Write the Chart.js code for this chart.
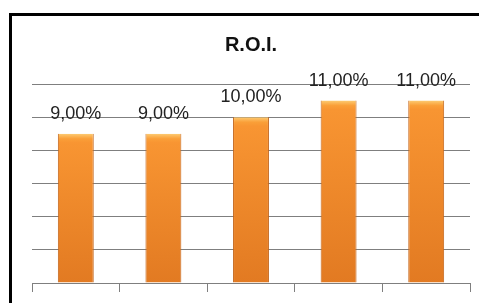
<!DOCTYPE html>
<html>
<head>
<meta charset="utf-8">
<title>R.O.I.</title>
<script src="https://cdn.jsdelivr.net/npm/chart.js@4/dist/chart.umd.min.js"></script>
<style>
	html, body {
		margin: 0;
		padding: 0;
		width: 479px;
		height: 303px;
		overflow: hidden;
		background: #fff;
	}
	.roi-frame {
		position: absolute;
		left: 9px;
		top: 13px;
		width: 600px;
		height: 400px;
		border: 3px solid #000;
	}
	.roi-holder {
		position: absolute;
		left: 0;
		top: 0;
		width: 479px;
		height: 303px;
	}
</style>
</head>
<body>
<div class="roi-frame"></div>
<div class="roi-holder"><canvas id="roi-chart" width="479" height="303"></canvas></div>
<script>
(function () {
	'use strict';

	var titleText = 'R.O.I.';
	var categories = ['1', '2', '3', '4', '5'];
	var roiValues = [9, 9, 10, 11, 11];
	var yTicks = [0, 2, 4, 6, 8, 10, 12];

	var gridColor = '#7f7f7f';

	/**
	 * Vertical bevel gradient for one bar
	 */
	function barFill(context) {
		var chart = context.chart,
			area = chart.chartArea,
			scale = chart.scales.y;

		if (!area || !scale || context.parsed === undefined) {
			return '#F7952F';
		}

		var top = scale.getPixelForValue(context.parsed.y),
			bottom = scale.getPixelForValue(0),
			height = Math.max(bottom - top, 1),
			grad = chart.ctx.createLinearGradient(0, top, 0, bottom);

		grad.addColorStop(0, '#FDCB72');
		grad.addColorStop(Math.min(5 / height, 1), '#FA9F38');
		grad.addColorStop(Math.min(9 / height, 1), '#F89532');
		grad.addColorStop(1, '#E27A22');
		return grad;
	}

	// percent labels above each bar, comma decimals
	var valueLabels = {
		id: 'valueLabels',
		afterDatasetsDraw: function (chart) {
			var ctx = chart.ctx,
				meta = chart.getDatasetMeta(0);

			ctx.save();
			ctx.font = '18px "Liberation Sans", Arial, sans-serif';
			ctx.fillStyle = '#222';
			ctx.textAlign = 'center';
			ctx.textBaseline = 'middle';
			meta.data.forEach(function (bar, i) {
				var text = roiValues[i].toFixed(2).replace('.', ',') + '%';
				ctx.fillText(text, bar.x, bar.y - 20);
			});
			ctx.restore();
		}
	};

	new Chart(document.getElementById('roi-chart'), {
		type: 'bar',
		data: {
			labels: categories,
			datasets: [{
				label: titleText,
				data: roiValues,
				backgroundColor: barFill,
				borderColor: '#C4661C',
				borderWidth: {left: 1, right: 1, top: 0, bottom: 0},
				borderSkipped: false,
				categoryPercentage: 1,
				barPercentage: 0.41
			}]
		},
		options: {
			responsive: false,
			animation: false,
			layout: {
				padding: {left: 32, right: 9, top: 0, bottom: 11}
			},
			plugins: {
				legend: {display: false},
				tooltip: {enabled: false},
				title: {
					display: true,
					text: titleText,
					color: '#111',
					font: {family: '"Liberation Sans", Arial, sans-serif', size: 20, weight: 'bold'},
					padding: {top: 33, bottom: 27}
				}
			},
			scales: {
				x: {
					grid: {
						offset: true,
						drawOnChartArea: false,
						color: gridColor,
						tickLength: 9
					},
					border: {color: gridColor},
					ticks: {display: false}
				},
				y: {
					min: 0,
					max: 12,
					afterBuildTicks: function (axis) {
						axis.ticks = yTicks.map(function (v) {
							return {value: v};
						});
					},
					grid: {color: gridColor, drawTicks: false},
					border: {display: false},
					ticks: {display: false}
				}
			}
		},
		plugins: [valueLabels]
	});
})();
</script>
</body>
</html>
